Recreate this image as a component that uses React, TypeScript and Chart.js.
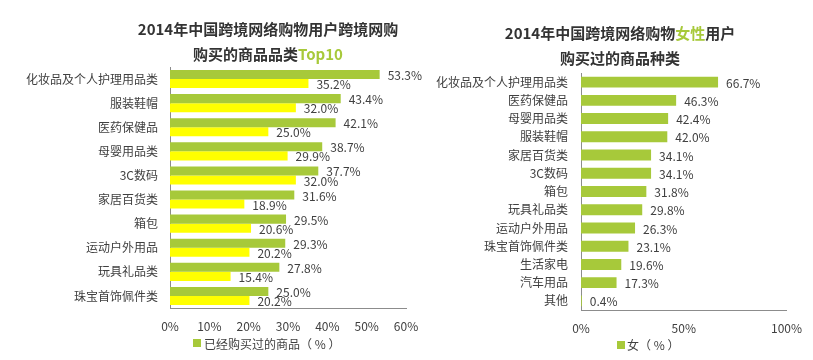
import React, { useEffect, useRef } from "react";
import { Chart, registerables } from "chart.js";

Chart.register(...registerables);

const FONT = '"Noto Sans CJK SC", "Noto Sans", sans-serif';
const GREEN = "#a7c93a";
const YELLOW = "#ffff00";
const TEXT = "#404040";
const TITLE = "#333333";
const AXIS = "#8c8c8c";

// Left chart: Top10 categories
const leftCategories = [
  "化妆品及个人护理用品类",
  "服装鞋帽",
  "医药保健品",
  "母婴用品类",
  "3C数码",
  "家居百货类",
  "箱包",
  "运动户外用品",
  "玩具礼品类",
  "珠宝首饰佩件类",
];
const leftGreen = [53.3, 43.4, 42.1, 38.7, 37.7, 31.6, 29.5, 29.3, 27.8, 25.0];
const leftYellow = [35.2, 32.0, 25.0, 29.9, 32.0, 18.9, 20.6, 20.2, 15.4, 20.2];
const leftTicks = [0, 10, 20, 30, 40, 50, 60];

// Right chart: female users
const rightCategories = [
  "化妆品及个人护理用品类",
  "医药保健品",
  "母婴用品类",
  "服装鞋帽",
  "家居百货类",
  "3C数码",
  "箱包",
  "玩具礼品类",
  "运动户外用品",
  "珠宝首饰佩件类",
  "生活家电",
  "汽车用品",
  "其他",
];
const rightValues = [66.7, 46.3, 42.4, 42.0, 34.1, 34.1, 31.8, 29.8, 26.3, 23.1, 19.6, 17.3, 0.4];
const rightTicks = [0, 50, 100];

const valueLabels = {
  id: "valueLabels",
  afterDatasetsDraw(chart: any) {
    const ctx = chart.ctx;
    ctx.save();
    ctx.font = `12px ${FONT}`;
    ctx.fillStyle = TEXT;
    ctx.textAlign = "left";
    ctx.textBaseline = "middle";
    chart.data.datasets.forEach((ds: any, i: number) => {
      const meta = chart.getDatasetMeta(i);
      meta.data.forEach((el: any, j: number) => {
        const v = ds.data[j];
        ctx.fillText(v.toFixed(1) + "%", el.x + 8, el.y + 1);
      });
    });
    ctx.restore();
  },
};

function makeOptions(max: number, step: number, yWidth: number, yPad: number, top: number, bottom: number, rightPad: number) {
  return {
    indexAxis: "y" as const,
    responsive: false,
    animation: false as const,
    layout: { padding: { top, bottom, left: 0, right: rightPad } },
    plugins: { legend: { display: false }, title: { display: false }, tooltip: { enabled: false } },
    scales: {
      x: {
        min: 0,
        max,
        grid: { display: false, drawTicks: false },
        border: { display: true, color: AXIS, width: 1 },
        ticks: {
          stepSize: step,
          padding: 11,
          color: TEXT,
          font: { family: FONT, size: 12 },
          callback: (v: any) => v + "%",
        },
        afterFit: (s: any) => {
          s.height = 40;
        },
      },
      y: {
        grid: { display: false, drawTicks: false },
        border: { display: true, color: AXIS, width: 1 },
        ticks: { padding: yPad, color: TEXT, font: { family: FONT, size: 12 } },
        afterFit: (s: any) => {
          s.width = yWidth;
        },
      },
    },
  };
}

function LeftChart() {
  const ref = useRef<HTMLCanvasElement>(null);
  useEffect(() => {
    const chart = new Chart(ref.current!, {
      type: "bar",
      data: {
        labels: leftCategories,
        datasets: [
          { label: "已经购买过的商品（%）", data: leftGreen, backgroundColor: GREEN, barPercentage: 1, categoryPercentage: 0.75 },
          { label: "对比", data: leftYellow, backgroundColor: YELLOW, barPercentage: 1, categoryPercentage: 0.75 },
        ],
      },
      options: makeOptions(leftTicks[leftTicks.length - 1], 10, 170, 12, 67, 12, 26) as any,
      plugins: [valueLabels],
    });
    return () => chart.destroy();
  }, []);
  return <canvas ref={ref} width={432} height={360} style={{ position: "absolute", left: 0, top: 0 }} />;
}

function RightChart() {
  const ref = useRef<HTMLCanvasElement>(null);
  useEffect(() => {
    const chart = new Chart(ref.current!, {
      type: "bar",
      data: {
        labels: rightCategories,
        datasets: [
          { label: "女（%）", data: rightValues, backgroundColor: GREEN, barPercentage: 1, categoryPercentage: 0.6 },
        ],
      },
      options: makeOptions(rightTicks[rightTicks.length - 1], 50, 161, 13, 73, 10, 26) as any,
      plugins: [valueLabels],
    });
    return () => chart.destroy();
  }, []);
  return <canvas ref={ref} width={393} height={360} style={{ position: "absolute", left: 420, top: 0 }} />;
}

const titleStyle: React.CSSProperties = {
  position: "absolute",
  textAlign: "center",
  fontFamily: FONT,
  fontWeight: 700,
  fontSize: 15,
  lineHeight: "25px",
  color: TITLE,
  whiteSpace: "nowrap",
};

const legendText: React.CSSProperties = {
  position: "absolute",
  fontFamily: FONT,
  fontSize: 12,
  lineHeight: "16px",
  color: TEXT,
  whiteSpace: "nowrap",
};

export default function App() {
  useEffect(() => {
    document.body.style.margin = "0";
  }, []);
  return (
    <div style={{ position: "relative", width: 813, height: 360, background: "#fff", overflow: "hidden" }}>
      <LeftChart />
      <RightChart />
      <div style={{ ...titleStyle, left: 0, width: 536, top: 15.5 }}>
        <div>2014年中国跨境网络购物用户跨境网购</div>
        <div>
          购买的商品品类<span style={{ color: GREEN }}>Top10</span>
        </div>
      </div>
      <div style={{ ...titleStyle, left: 420, width: 400, top: 19.5 }}>
        <div>
          2014年中国跨境网络购物<span style={{ color: GREEN }}>女性</span>用户
        </div>
        <div>购买过的商品种类</div>
      </div>
      <div style={{ position: "absolute", left: 193, top: 339, width: 8, height: 8, background: GREEN }} />
      <div style={{ ...legendText, left: 204, top: 336 }}>已经购买过的商品（ % ）</div>
      <div style={{ position: "absolute", left: 617, top: 341, width: 8, height: 8, background: GREEN }} />
      <div style={{ ...legendText, left: 627, top: 337 }}>女（ % ）</div>
    </div>
  );
}
